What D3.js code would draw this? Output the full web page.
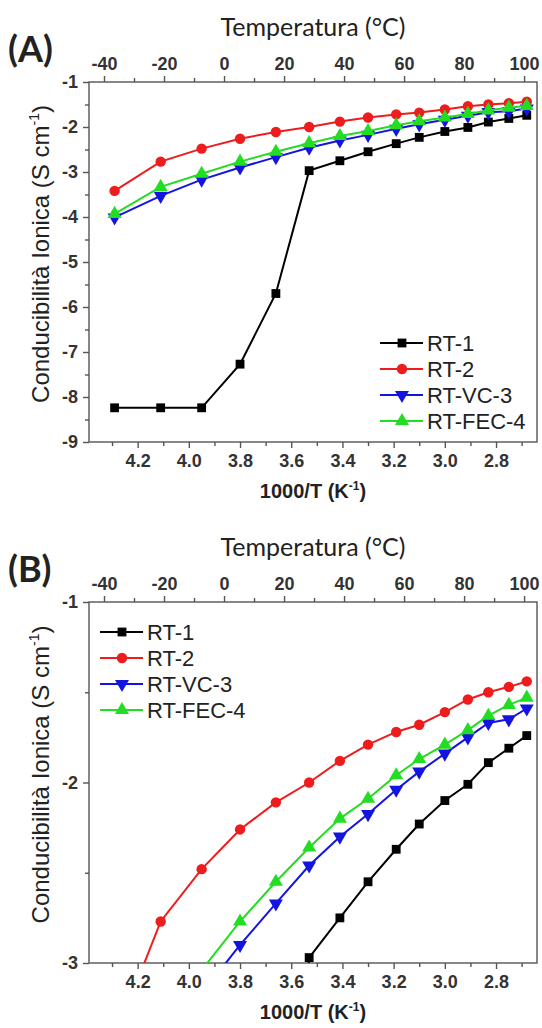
<!DOCTYPE html>
<html>
<head>
<meta charset="utf-8">
<script src="https://cdn.jsdelivr.net/npm/d3@7"></script>
<style>
    body { margin: 0; background: #fff; }
    svg { display: block; }
    .tick text { font-family: 'Liberation Sans', Arial, sans-serif; font-weight: bold; font-size: 18px; fill: #333; }
    .tick line, .domain { stroke: #555; stroke-width: 1.4; }
    .title { font-family: Lato, 'Open Sans', sans-serif; fill: #222; }
    .axis-title { font-family: 'Liberation Sans', Arial, sans-serif; fill: #222; }
    .legend text { font-family: 'Liberation Sans', Arial, sans-serif; font-size: 22px; fill: #222; }
</style>
</head>
<body>
<svg id="chart" width="542" height="1028"></svg>
<script>
// 1000/T of each measuring point (K^-1), from -40 to 100 degC
const invT = [4.29, 4.11, 3.95, 3.80, 3.66, 3.53, 3.41, 3.30, 3.19, 3.10, 3.00, 2.91, 2.83, 2.75, 2.68];

// log conductivity (S cm^-1)
const rt1 = [-8.24, -8.24, -8.24, -7.27, -5.70, -2.97, -2.75, -2.55, -2.37, -2.23, -2.10, -2.01, -1.89, -1.81, -1.74];
const rt2 = [-3.42, -2.77, -2.48, -2.26, -2.11, -2.00, -1.88, -1.79, -1.72, -1.68, -1.61, -1.54, -1.50, -1.47, -1.44];
const rtVc3 = [-4.01, -3.53, -3.17, -2.90, -2.67, -2.46, -2.30, -2.175, -2.04, -1.94, -1.84, -1.75, -1.67, -1.65, -1.59];
const rtFec4 = [-3.93, -3.33, -3.04, -2.77, -2.55, -2.36, -2.20, -2.09, -1.96, -1.87, -1.79, -1.71, -1.63, -1.57, -1.53];

const seriesNames = ['RT-1', 'RT-2', 'RT-VC-3', 'RT-FEC-4'];

const xTicks = [4.2, 4.0, 3.8, 3.6, 3.4, 3.2, 3.0, 2.8];
const xMinorTicks = [4.3, 4.1, 3.9, 3.7, 3.5, 3.3, 3.1, 2.9, 2.7];
const tempTicks = [-40, -20, 0, 20, 40, 60, 80, 100];
const tempMinorTicks = [-30, -10, 10, 30, 50, 70, 90];
const yTicksA = [-1, -2, -3, -4, -5, -6, -7, -8, -9];
const yMinorTicksA = [-1.5, -2.5, -3.5, -4.5, -5.5, -6.5, -7.5, -8.5];
const yTicksB = [-1, -2, -3];
const yMinorTicksB = [-1.5, -2.5];

const SERIES_STYLE = {
    'RT-1': { color: '#000000', symbol: d3.symbolSquare, size: 78, rotate: 0 },
    'RT-2': { color: '#ee1c1c', symbol: d3.symbolCircle, size: 85, rotate: 0 },
    'RT-VC-3': { color: '#1414e0', symbol: d3.symbolTriangle, size: 85, rotate: 180 },
    'RT-FEC-4': { color: '#22dd22', symbol: d3.symbolTriangle, size: 85, rotate: 0 }
};

const seriesValues = [rt1, rt2, rtVc3, rtFec4];
const series = seriesNames.map((name, i) => ({
    name: name,
    points: invT.map((x, j) => ({ x: x, y: seriesValues[i][j] }))
}));

const svg = d3.select('#chart');
const left = 89;
const right = 537;

function drawPanel(cfg) {
    const g = svg.append('g');
    const x = d3.scaleLinear().domain([4.39, 2.64]).range([left, right]);
    const xTemp = d3.scaleLinear().domain([-45, 104.3]).range([left, right]);
    const y = d3.scaleLinear().domain(cfg.yDomain).range([cfg.bottom, cfg.top]);

    const clipId = 'clip-' + cfg.id;
    svg.append('clipPath').attr('id', clipId)
        .append('rect')
        .attr('x', left).attr('y', cfg.top)
        .attr('width', right - left).attr('height', cfg.bottom - cfg.top);

    // frame
    g.append('rect')
        .attr('x', left).attr('y', cfg.top)
        .attr('width', right - left).attr('height', cfg.bottom - cfg.top)
        .attr('fill', 'none')
        .attr('stroke', '#555')
        .attr('stroke-width', 1.4);

    // bottom axis
    g.append('g').attr('transform', `translate(0,${cfg.bottom})`)
        .call(d3.axisBottom(x).tickValues(xMinorTicks).tickSize(4).tickFormat(''));
    g.append('g').attr('transform', `translate(0,${cfg.bottom})`)
        .call(d3.axisBottom(x).tickValues(xTicks).tickSize(6).tickPadding(6).tickFormat(d3.format('.1f')));

    // top axis, degC
    g.append('g').attr('transform', `translate(0,${cfg.top})`)
        .call(d3.axisTop(xTemp).tickValues(tempMinorTicks).tickSize(4).tickFormat(''));
    g.append('g').attr('transform', `translate(0,${cfg.top})`)
        .call(d3.axisTop(xTemp).tickValues(tempTicks).tickSize(6).tickPadding(6).tickFormat(d3.format('d')));

    // left axis
    g.append('g').attr('transform', `translate(${left},0)`)
        .call(d3.axisLeft(y).tickValues(cfg.yMinorTicks).tickSize(4).tickFormat(''));
    g.append('g').attr('transform', `translate(${left},0)`)
        .call(d3.axisLeft(y).tickValues(cfg.yTicks).tickSize(6).tickPadding(5).tickFormat(d3.format('d')));

    g.selectAll('.domain').remove();
    g.selectAll('.tick text').text(function () { return this.textContent.replace('\u2212', '-'); });

    // series
    const line = d3.line().x(d => x(d.x)).y(d => y(d.y));
    const plot = g.append('g').attr('clip-path', `url(#${clipId})`);
    series.forEach(s => {
        const st = SERIES_STYLE[s.name];
        plot.append('path')
            .datum(s.points)
            .attr('d', line)
            .attr('fill', 'none')
            .attr('stroke', st.color)
            .attr('stroke-width', 2);
        plot.selectAll(null)
            .data(s.points)
            .enter()
            .append('path')
            .attr('d', d3.symbol().type(st.symbol).size(st.size))
            .attr('transform', d => `translate(${x(d.x)},${y(d.y)}) rotate(${st.rotate})`)
            .attr('fill', st.color);
    });

    // titles
    g.append('text').attr('class', 'title')
        .attr('x', 8).attr('y', cfg.top - 20)
        .style('font-size', '36px').style('font-weight', 'bold')
        .text(cfg.label);
    g.append('text').attr('class', 'title')
        .attr('x', 313).attr('y', cfg.top - 46)
        .attr('text-anchor', 'middle')
        .style('font-size', '25px')
        .text('Temperatura (°C)');

    const xt = g.append('text').attr('class', 'axis-title')
        .attr('x', 313).attr('y', cfg.bottom + 56)
        .attr('text-anchor', 'middle')
        .style('font-size', '20px')
        .style('font-weight', 'bold');
    xt.append('tspan').text('1000/T (K');
    xt.append('tspan').attr('dy', -8).style('font-size', '12px').text('-1');
    xt.append('tspan').attr('dy', 8).text(')');

    const yt = g.append('text').attr('class', 'axis-title')
        .attr('transform', `translate(49,${(cfg.top + cfg.bottom) / 2 - 8}) rotate(-90)`)
        .attr('text-anchor', 'middle')
        .style('font-size', '24px');
    yt.append('tspan').text(cfg.yTitle);
    yt.append('tspan').attr('dy', -10).style('font-size', '14px').text('-1');
    yt.append('tspan').attr('dy', 10).text(')');

    // legend
    const legend = g.append('g').attr('class', 'legend')
        .attr('transform', `translate(${cfg.legendX},${cfg.legendY})`);
    series.forEach((s, i) => {
        const st = SERIES_STYLE[s.name];
        const row = legend.append('g').attr('transform', `translate(0,${i * 26})`);
        row.append('line')
            .attr('x1', 0).attr('x2', 43)
            .attr('stroke', st.color).attr('stroke-width', 2);
        row.append('path')
            .attr('d', d3.symbol().type(st.symbol).size(st.size))
            .attr('transform', `translate(22,0) rotate(${st.rotate})`)
            .attr('fill', st.color);
        row.append('text')
            .attr('x', 47).attr('y', 8)
            .text(s.name);
    });
}

drawPanel({
    id: 'a', label: '(A)', top: 82, bottom: 442,
    yDomain: [-9, -1], yTicks: yTicksA, yMinorTicks: yMinorTicksA,
    yTitle: 'Conducibilità Ionica (S cm',
    legendX: 380, legendY: 343
});

drawPanel({
    id: 'b', label: '(B)', top: 602, bottom: 963,
    yDomain: [-3, -1], yTicks: yTicksB, yMinorTicks: yMinorTicksB,
    yTitle: 'Conducibilità Ionica  (S cm',
    legendX: 100, legendY: 632
});
</script>
</body>
</html>
